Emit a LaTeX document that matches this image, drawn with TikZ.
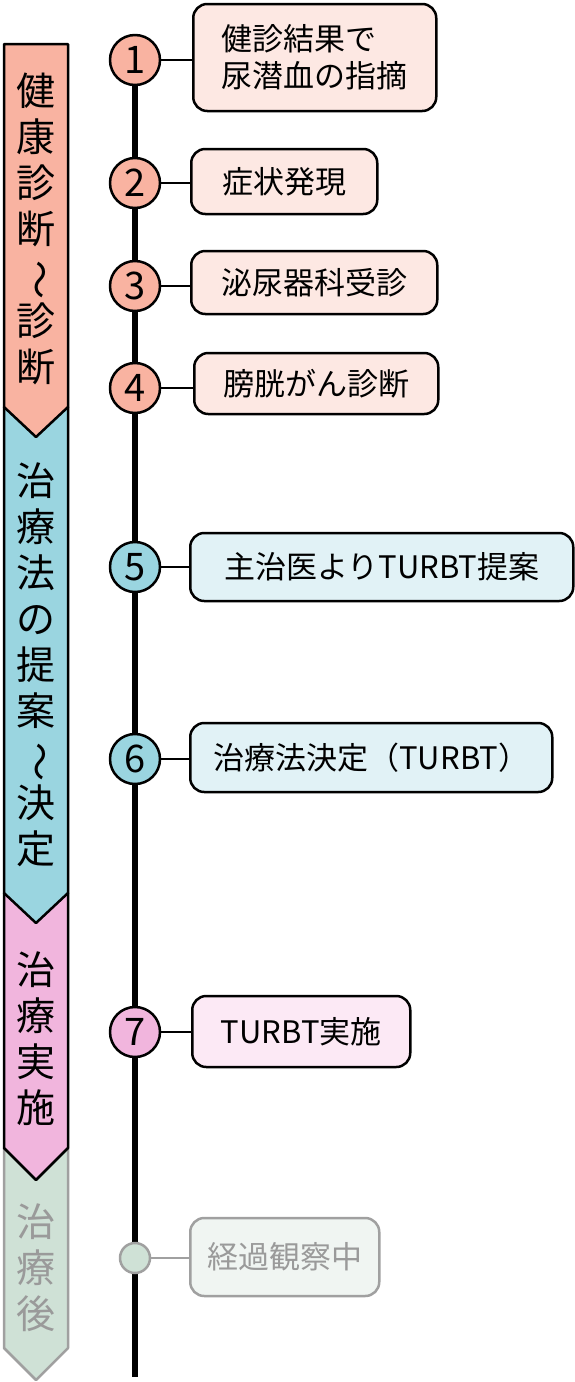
\documentclass[tikz,border=0pt]{standalone}
\usepackage{fontspec}
\setmainfont{Noto Sans CJK JP}
\usepackage{graphicx}
\usetikzlibrary{shapes}

\definecolor{phaseA}{HTML}{F9B3A1}
\definecolor{phaseAlight}{HTML}{FDE8E3}
\definecolor{phaseB}{HTML}{9AD5E0}
\definecolor{phaseBlight}{HTML}{E1F2F6}
\definecolor{phaseC}{HTML}{F1B5DD}
\definecolor{phaseClight}{HTML}{FCE9F5}
\definecolor{phaseD}{HTML}{CFE1D6}
\definecolor{phaseDlight}{HTML}{F0F5F2}
\definecolor{mutedline}{HTML}{A0A0A0}
\definecolor{mutedtext}{HTML}{9A9A9A}

\newcommand{\wave}{\rotatebox[origin=c]{-90}{～}}

\begin{document}
\begin{tikzpicture}[x=1pt, y=-1pt, line join=round,
  band/.style={draw=black, line width=2.5pt},
  bandtext/.style={align=center, inner sep=0pt, font=\fontsize{39}{46}\selectfont},
  stepnum/.style={circle, draw=black, line width=2.5pt, minimum size=50pt, inner sep=0pt, font=\fontsize{38}{38}\selectfont},
  event/.style={rounded corners=14pt, draw=black, line width=2.5pt, anchor=west, align=center, inner sep=0pt, font=\fontsize{31}{37}\selectfont},
  link/.style={line width=2.5pt}]
\useasboundingbox (0,0) rectangle (575,1382);

% phase bands, bottom one first
\draw[band, draw=mutedline, fill=phaseD] (4,1148) -- (68,1148) -- (68,1348) -- (36,1380) -- (4,1348) -- cycle;
\draw[band, fill=phaseC] (4,893) -- (68,893) -- (68,1148) -- (36,1180) -- (4,1148) -- cycle;
\draw[band, fill=phaseB] (4,407) -- (68,407) -- (68,893) -- (36,923) -- (4,893) -- cycle;
\draw[band, fill=phaseA] (4,44) -- (68,44) -- (68,407) -- (36,437) -- (4,407) -- cycle;

\node[bandtext] (phase1) at (36,229) {健\\康\\診\\断\\\wave\\診\\断};
\node[bandtext] (phase2) at (36,665) {治\\療\\法\\の\\提\\案\\\wave\\決\\定};
\node[bandtext] (phase3) at (36,1039) {治\\療\\実\\施};
\node[bandtext, text=mutedtext] (phase4) at (36,1268) {治\\療\\後};

% timeline
\coordinate (tltop) at (135,60);
\coordinate (tlbot) at (135,1377);
\draw[line width=5.5pt] (tltop) -- (tlbot);

\node[stepnum, fill=phaseA] (c1) at (135,60) {1};
\node[stepnum, fill=phaseA] (c2) at (135,183) {2};
\node[stepnum, fill=phaseA] (c3) at (135,286) {3};
\node[stepnum, fill=phaseA] (c4) at (135,388) {4};
\node[stepnum, fill=phaseB] (c5) at (135,567) {5};
\node[stepnum, fill=phaseB] (c6) at (135,759) {6};
\node[stepnum, fill=phaseC] (c7) at (135,1032) {7};
\node[stepnum, fill=phaseD, draw=mutedline, minimum size=30pt] (c8) at (135,1258) {};

\node[event, fill=phaseAlight, align=left, minimum width=243pt, minimum height=107pt] (b1) at (192,57.5) {健診結果で\\尿潜血の指摘};
\node[event, fill=phaseAlight, minimum width=186pt, minimum height=65pt] (b2) at (190,181.5) {症状発現};
\node[event, fill=phaseAlight, minimum width=246pt, minimum height=63pt] (b3) at (190,282.5) {泌尿器科受診};
\node[event, fill=phaseAlight, minimum width=244pt, minimum height=61pt] (b4) at (193,383.5) {膀胱がん診断};
\node[event, fill=phaseBlight, minimum width=383pt, minimum height=68pt] (b5) at (189,567) {主治医よりTURBT提案};
\node[event, fill=phaseBlight, minimum width=362pt, minimum height=69pt] (b6) at (189,757.5) {治療法決定（TURBT）};
\node[event, fill=phaseClight, minimum width=218pt, minimum height=71pt] (b7) at (191,1031.5) {TURBT実施};
\node[event, fill=phaseDlight, draw=mutedline, text=mutedtext, minimum width=189pt, minimum height=78pt] (b8) at (189,1257) {経過観察中};

\draw[link] (c1.east) -- (c1.east -| b1.west);
\draw[link] (c2.east) -- (c2.east -| b2.west);
\draw[link] (c3.east) -- (c3.east -| b3.west);
\draw[link] (c4.east) -- (c4.east -| b4.west);
\draw[link] (c5.east) -- (c5.east -| b5.west);
\draw[link] (c6.east) -- (c6.east -| b6.west);
\draw[link] (c7.east) -- (c7.east -| b7.west);
\draw[link, draw=mutedline] (c8.east) -- (c8.east -| b8.west);
\end{tikzpicture}
\end{document}
